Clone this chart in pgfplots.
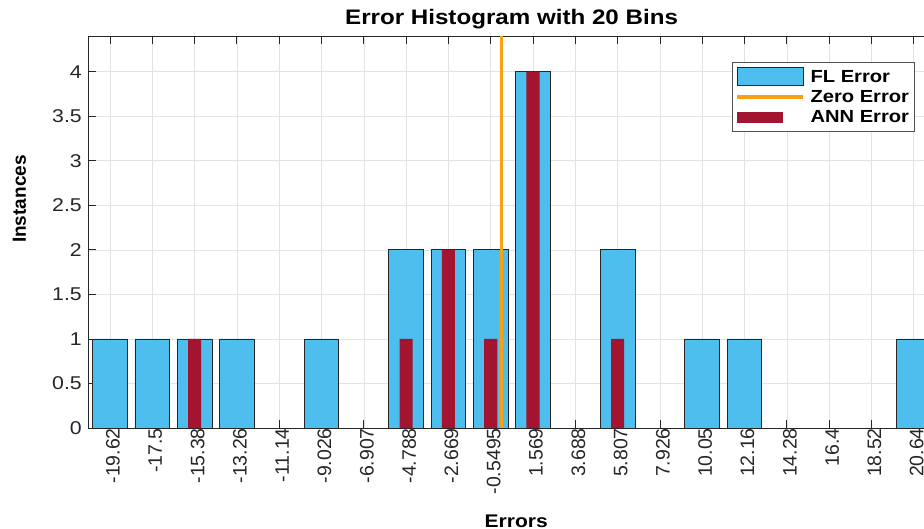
\documentclass[border=0pt]{standalone}
\usepackage{fontspec}
\setmainfont{Liberation Sans}[FakeStretch=1.15]
\newfontfamily\plainsans{Liberation Sans}
\usepackage{pgfplots}
\usepackage{pgfplotstable}
\pgfplotsset{compat=1.18}
\definecolor{flblue}{RGB}{77,190,238}
\definecolor{annred}{RGB}{162,20,47}
\definecolor{zeroorange}{RGB}{250,160,20}
\definecolor{axgray}{RGB}{38,38,38}

\pgfplotstableread{
x y
0 1
1 1
2 1
3 1
5 1
7 2
8 2
9 2
10 4
12 2
14 1
15 1
19 1
}\fldata
\pgfplotstableread{
x y
2 1
7 1
8 2
9 1
10 4
12 1
}\anndata

\begin{document}
\begin{tikzpicture}
\begin{axis}[
 at={(0,0)}, anchor=south west,
 scale only axis, width=848bp, height=392bp,
 xmin=-0.52, xmax=19.527, ymin=0, ymax=4.4,
 xtick={0,1,2,3,4,5,6,7,8,9,10,11,12,13,14,15,16,17,18,19},
 xticklabels={-19.62,-17.5,-15.38,-13.26,-11.14,-9.026,-6.907,-4.788,-2.669,-0.5495,1.569,3.688,5.807,7.926,10.05,12.16,14.28,16.4,18.52,20.64},
 ytick={0,0.5,1,1.5,2,2.5,3,3.5,4},
 /pgf/number format/assume math mode=true,
 yticklabel style={font=\fontsize{18.5bp}{20bp}\selectfont, text=axgray, inner sep=0pt, xshift=-6bp},
 xticklabel style={rotate=90, anchor=east, font=\plainsans\fontsize{19.5bp}{20bp}\selectfont, text=axgray, inner sep=0pt, yshift=-3bp},
 tick align=inside, major tick length=8bp,
 tick style={axgray, line width=0.8bp},
 axis line style={axgray, line width=0.8bp},
 grid=major, grid style={gray!22, line width=0.6bp},
 title={Error Histogram with 20 Bins},
 title style={font=\bfseries\fontsize{21bp}{22bp}\selectfont, at={(axis description cs:0.4995,1)}, anchor=base, yshift=6bp, inner sep=0pt},
 xlabel={Errors},
 xlabel style={at={(axis description cs:0.505,0)}, anchor=base, yshift=-99bp, font=\bfseries\fontsize{18.3bp}{20bp}\selectfont, inner sep=0pt},
 ylabel={Instances},
 ylabel style={at={(axis description cs:0,0.584)}, anchor=center, yshift=68.5bp, font=\plainsans\bfseries\fontsize{19bp}{20bp}\selectfont, inner sep=0pt},
 legend cell align=left,
 legend style={at={(axis description cs:0.7591,0.9337)}, anchor=north west, draw=axgray!80, line width=0.8bp, fill=white, font=\bfseries\fontsize{17.5bp}{19bp}\selectfont, inner xsep=3bp, inner ysep=5bp, row sep=2bp, /tikz/every odd column/.append style={column sep=4bp}},
]
\addplot[ybar, bar width=0.82, bar shift=0pt, fill=flblue, draw=axgray, line width=0.75bp,
  legend image code/.code={\draw[fill=flblue, draw=axgray, line width=0.7bp] (0bp,-9bp) rectangle (66bp,9bp);}] table {\fldata};
\addplot[zeroorange, line width=3.5bp,
  legend image code/.code={\path[draw=none, fill=none] (0bp,-9bp) rectangle (66bp,9bp); \draw[zeroorange, line width=3.5bp] (0bp,0bp) -- (66bp,0bp);}] coordinates {(9.2593,0) (9.2593,4.4)};
\addplot[ybar, bar width=0.31, bar shift=0pt, fill=annred, draw=none,
  legend image code/.code={\path[draw=none, fill=none] (0bp,-9bp) rectangle (66bp,9bp); \fill[annred] (0bp,-5.5bp) rectangle (46bp,5.5bp);}] table {\anndata};
\legend{FL Error, Zero Error, ANN Error}
\end{axis}
\pgfresetboundingbox
\useasboundingbox (-88bp,-101bp) rectangle (836bp,428bp);
\end{tikzpicture}
\end{document}
